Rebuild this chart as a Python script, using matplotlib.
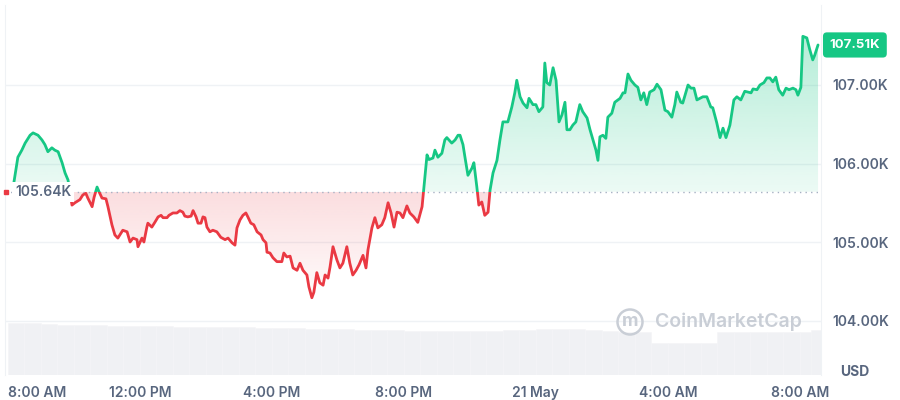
'''
BTC / USD 24h price chart, CoinMarketCap style
'''
import numpy as np
import matplotlib.pyplot as plt
import matplotlib.colors as mcolors
import matplotlib.transforms as mtransforms
from matplotlib.patches import Rectangle, Circle
from matplotlib.path import Path

plt.rcParams['font.family'] = ['Inter', 'DejaVu Sans']

# hours after 8:00 AM (20 May), price in thousands of USD
hours = [0.18, 0.30, 0.42, 0.52, 0.67, 0.76, 0.91, 1.03, 1.12, 1.21,
         1.33, 1.42, 1.52, 1.64, 1.73, 1.82, 1.94, 2.03, 2.18, 2.27,
         2.36, 2.42, 2.55, 2.61, 2.70, 2.76, 2.85, 2.97, 3.03, 3.15,
         3.24, 3.33, 3.48, 3.61, 3.70, 3.79, 3.91, 3.94, 4.06, 4.12,
         4.21, 4.24, 4.36, 4.45, 4.55, 4.64, 4.70, 4.82, 4.88, 5.00,
         5.12, 5.21, 5.30, 5.36, 5.45, 5.55, 5.61, 5.70, 5.76, 5.85,
         5.91, 5.97, 6.03, 6.12, 6.21, 6.33, 6.45, 6.58, 6.67, 6.79,
         6.88, 6.94, 7.03, 7.12, 7.21, 7.27, 7.36, 7.45, 7.55, 7.67,
         7.73, 7.82, 7.85, 7.94, 8.03, 8.15, 8.30, 8.36, 8.45, 8.55,
         8.64, 8.76, 8.85, 8.94, 9.06, 9.12, 9.21, 9.27, 9.36, 9.45,
         9.55, 9.61, 9.70, 9.76, 9.85, 9.97, 10.06, 10.15, 10.27, 10.36,
         10.45, 10.55, 10.64, 10.76, 10.85, 10.91, 11.03, 11.12, 11.21, 11.33,
         11.42, 11.52, 11.61, 11.70, 11.79, 11.88, 11.97, 12.09, 12.18, 12.30,
         12.42, 12.55, 12.70, 12.76, 12.88, 12.94, 13.03, 13.15, 13.24, 13.30,
         13.45, 13.55, 13.64, 13.70, 13.79, 13.85, 13.94, 14.06, 14.12, 14.21,
         14.27, 14.36, 14.45, 14.55, 14.61, 14.70, 14.82, 14.91, 15.00, 15.15,
         15.27, 15.36, 15.42, 15.52, 15.61, 15.73, 15.79, 15.91, 16.00, 16.09,
         16.21, 16.27, 16.33, 16.42, 16.52, 16.61, 16.70, 16.79, 16.88, 16.94,
         17.03, 17.12, 17.21, 17.33, 17.42, 17.55, 17.64, 17.73, 17.82, 17.88,
         17.94, 18.03, 18.12, 18.18, 18.30, 18.39, 18.55, 18.64, 18.70, 18.79,
         18.88, 19.00, 19.09, 19.18, 19.27, 19.36, 19.45, 19.58, 19.67, 19.79,
         19.91, 20.00, 20.12, 20.21, 20.27, 20.39, 20.45, 20.61, 20.70, 20.79,
         20.88, 20.97, 21.06, 21.18, 21.30, 21.36, 21.48, 21.58, 21.67, 21.76,
         21.88, 22.00, 22.09, 22.21, 22.33, 22.42, 22.52, 22.58, 22.70, 22.79,
         22.91, 23.00, 23.09, 23.18, 23.27, 23.36, 23.48, 23.58, 23.67, 23.79,
         23.88, 23.94, 24.03, 24.09, 24.21, 24.30, 24.39, 24.45, 24.55]

price = [105.76, 106.08, 106.17, 106.26, 106.36, 106.39, 106.36, 106.30, 106.24, 106.15,
         106.20, 106.17, 106.15, 106.01, 105.88, 105.79, 105.47, 105.50, 105.54, 105.60,
         105.62, 105.56, 105.45, 105.57, 105.70, 105.64, 105.56, 105.55, 105.45, 105.22,
         105.09, 105.05, 105.15, 105.13, 105.00, 105.05, 105.03, 104.94, 105.05, 105.00,
         105.19, 105.24, 105.19, 105.25, 105.32, 105.34, 105.31, 105.31, 105.34, 105.37,
         105.37, 105.40, 105.38, 105.33, 105.32, 105.33, 105.40, 105.32, 105.24, 105.24,
         105.32, 105.31, 105.19, 105.13, 105.15, 105.13, 105.06, 105.03, 105.05, 104.99,
         104.96, 105.18, 105.28, 105.34, 105.37, 105.32, 105.24, 105.22, 105.13, 105.09,
         105.03, 104.99, 104.87, 104.86, 104.80, 104.75, 104.75, 104.86, 104.81, 104.82,
         104.67, 104.64, 104.73, 104.64, 104.58, 104.43, 104.29, 104.36, 104.61, 104.48,
         104.45, 104.58, 104.54, 104.68, 104.94, 104.77, 104.67, 104.73, 104.94, 104.73,
         104.58, 104.64, 104.71, 104.83, 104.67, 104.90, 105.18, 105.31, 105.18, 105.22,
         105.31, 105.50, 105.37, 105.19, 105.38, 105.37, 105.31, 105.46, 105.37, 105.32,
         105.25, 105.45, 106.11, 106.05, 106.07, 106.17, 106.08, 106.13, 106.30, 106.33,
         106.26, 106.30, 106.36, 106.36, 106.24, 106.08, 105.85, 105.94, 106.01, 105.70,
         105.47, 105.51, 105.34, 105.38, 105.66, 105.88, 106.04, 106.30, 106.53, 106.53,
         106.72, 106.90, 107.06, 106.85, 106.77, 106.71, 106.83, 106.75, 106.75, 106.66,
         106.72, 107.28, 107.03, 107.00, 107.22, 107.06, 106.53, 106.62, 106.78, 106.43,
         106.43, 106.49, 106.53, 106.75, 106.66, 106.58, 106.43, 106.30, 106.17, 106.04,
         106.34, 106.36, 106.32, 106.59, 106.64, 106.78, 106.83, 106.90, 106.90, 107.14,
         107.06, 107.00, 106.97, 106.81, 106.90, 106.75, 106.91, 106.94, 107.01, 106.94,
         106.68, 106.66, 106.59, 106.75, 106.91, 106.78, 106.77, 107.00, 106.96, 106.96,
         106.81, 106.83, 106.85, 106.85, 106.72, 106.71, 106.52, 106.33, 106.45, 106.33,
         106.49, 106.81, 106.85, 106.81, 106.92, 106.91, 106.90, 106.95, 106.94, 107.00,
         107.03, 107.09, 107.09, 107.04, 107.10, 106.94, 106.87, 106.96, 106.94, 106.96,
         106.94, 106.87, 106.97, 107.62, 107.60, 107.45, 107.32, 107.38, 107.51]

open_price = 105.64
last_price = 107.51

# volume, half-hour bars (relative height)
vol_hours = [0.25, 0.75, 1.25, 1.75, 2.25, 2.75, 3.25, 3.75, 4.25, 4.75,
             5.25, 5.75, 6.25, 6.75, 7.25, 7.75, 8.25, 8.75, 9.25, 9.75,
             10.25, 10.75, 11.25, 11.75, 12.25, 12.75, 13.25, 13.75, 14.25, 14.75,
             15.25, 15.75, 16.25, 16.75, 17.25, 17.75, 18.25, 18.75, 19.25, 19.75,
             20.25, 20.75, 21.25, 21.75, 22.25, 22.75, 23.25, 23.75, 24.25, 24.60]
volume = [52, 52, 51, 50, 50, 50, 49, 49, 49, 49,
          48, 48, 48, 48, 48, 47, 47, 47, 46, 46,
          46, 45, 45, 45, 44, 44, 44, 44, 44, 44,
          45, 45, 46, 46, 46, 45, 44, 43, 43, 32,
          32, 32, 32, 43, 43, 43, 43, 43, 43, 45]

tick_hours = [0, 4, 8, 12, 16, 20, 24]
tick_labels = ['8:00 AM', '12:00 PM', '4:00 PM', '8:00 PM', '21 May', '4:00 AM', '8:00 AM']
price_ticks = [104, 105, 106, 107]

GREEN = '#16c784'
RED = '#ea3943'
GREY = '#58667e'
GRID = '#eff2f5'

hours = np.array(hours)
price = np.array(price)

fig = plt.figure(figsize=(9, 4), dpi=100)
rect = [5/900, 25/400, 816/900, 370/400]
axv = fig.add_axes(rect)
ax = fig.add_axes(rect, sharex=axv)
ax.patch.set_visible(False)

# ---- volume ----
axv.bar(vol_hours, volume, width=0.5, color='#f0f1f4', edgecolor='#f4f5f7', lw=0.4)
axv.set_ylim(0, 370)
axv.axis('off')


def grad_fill(ax, where, color, lo, hi, a_lo, a_hi):
    coll = ax.fill_between(hours, price, open_price, where=where, interpolate=True,
                           facecolor='none', edgecolor='none')
    clip = Path.make_compound_path(*coll.get_paths())
    img = np.zeros((256, 1, 4))
    img[..., :3] = mcolors.to_rgb(color)
    img[:, 0, 3] = np.linspace(a_lo, a_hi, 256)
    im = ax.imshow(img, extent=[hours[0], hours[-1], lo, hi], origin='lower',
                   aspect='auto', zorder=1, interpolation='bilinear')
    im.set_clip_path(clip, transform=ax.transData)


grad_fill(ax, price >= open_price, GREEN, open_price, price.max(), 0.08, 0.32)
grad_fill(ax, price <= open_price, RED, price.min(), open_price, 0.02, 0.17)

# ---- price line, green above the open, red below ----
for color, clip in [(GREEN, Rectangle((-5, open_price), 40, 10)),
                    (RED, Rectangle((-5, open_price - 10), 40, 10))]:
    ln, = ax.plot(hours, price, color=color, lw=2.0, zorder=3,
                  solid_joinstyle='round', solid_capstyle='round')
    clip.set_transform(ax.transData)
    ln.set_clip_path(clip)

ax.axhline(open_price, color='#a6b0c3', lw=1, ls=(0, (1, 3)), zorder=2)

ax.set_xlim(-0.09, 24.64)
ax.set_ylim(103.306, 108.019)

ax.set_yticks(price_ticks, [f'{v:.2f}K' for v in price_ticks])
ax.yaxis.tick_right()
ax.grid(axis='y', color=GRID, lw=1)
ax.set_axisbelow(True)
ax.tick_params(axis='y', length=0, pad=8, labelcolor=GREY, labelsize=10)
for lab in ax.get_yticklabels():
    lab.set_fontweight('semibold')

ax.set_xticks(tick_hours, tick_labels)
ax.tick_params(axis='x', length=0, pad=8, labelcolor=GREY, labelsize=10)
for lab in ax.get_xticklabels():
    lab.set_fontweight('semibold')
ax.get_xticklabels()[0].set_ha('left')

for side in ['top', 'bottom']:
    ax.spines[side].set_visible(False)
for side in ['left', 'right']:
    ax.spines[side].set_color(GRID)

# ---- labels ----
blend = mtransforms.blended_transform_factory(ax.transAxes, ax.transData)
ax.text(0.0125, open_price, '105.64K', transform=blend, ha='left', va='center',
        color=GREY, fontsize=10, fontweight='semibold', zorder=5,
        bbox=dict(boxstyle='square,pad=0.2', fc='white', ec='none'))
ax.plot([0.0015], [open_price], 's', ms=2.5, color=RED, transform=blend,
        clip_on=False, zorder=6)

ax.text(1.0105, last_price, '107.51K', transform=blend, ha='left', va='center',
        color='white', fontsize=9.5, fontweight='bold', zorder=6, clip_on=False,
        bbox=dict(boxstyle='round,pad=0.5,rounding_size=0.3', fc=GREEN, ec='none'))

fig.text(855/900, 1 - 372/400, 'USD', ha='center', va='center', color=GREY,
         fontsize=10, fontweight='bold')

# watermark
wm = '#c9ced6'
fig.add_artist(Circle((6.30, 0.78), 0.125, transform=fig.dpi_scale_trans,
                      fill=False, ec=wm, lw=1.8))
fig.text(630/900, 1 - 322/400, 'm', ha='center', va='center', color=wm,
         fontsize=13, fontweight='bold')
fig.text(728/900, 1 - 322/400, 'CoinMarketCap', ha='center', va='center',
         color=wm, fontsize=14, fontweight='semibold')

plt.savefig('out.png', dpi=100)
